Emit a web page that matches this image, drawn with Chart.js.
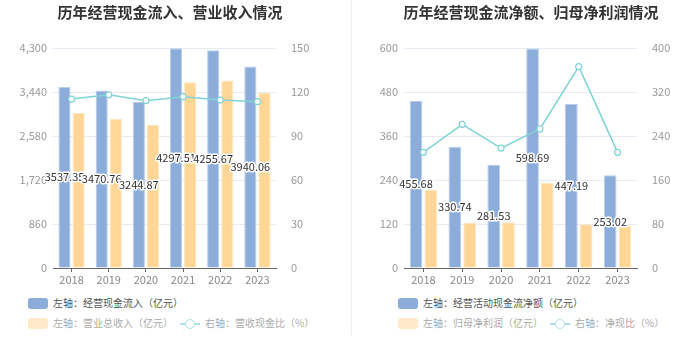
<!DOCTYPE html>
<html>
<head>
<meta charset="utf-8">
<script src="https://cdn.jsdelivr.net/npm/chart.js@4/dist/chart.umd.min.js"></script>
<style>
  body { margin: 0; background: #fff; font-family: "Noto Sans CJK SC", sans-serif; }
  #wrap { position: relative; width: 700px; height: 360px; }
  .box { position: absolute; top: 0; width: 350px; height: 290px; }
  .sep { position: absolute; left: 351px; top: 0; width: 1px; height: 335px; background: #eeeeee; }
  .lg { position: absolute; font-size: 10px; line-height: 14px; white-space: nowrap; }
  .sw { display: inline-block; width: 20px; height: 11px; border-radius: 3px; vertical-align: -2px; margin-right: 5px; }
  .ln { display: inline-block; position: relative; width: 20px; height: 11px; vertical-align: -2px; margin-right: 5px; }
  .ln::before { content: ""; position: absolute; left: 0; right: 0; top: 5px; height: 1.5px; background: #a9e3e5; }
  .ln::after { content: ""; position: absolute; left: 5px; top: 1px; width: 8px; height: 8px; border: 1.3px solid #a9e3e5; border-radius: 50%; background: #fff; }
</style>
</head>
<body>
<div id="wrap">
  <div class="box" style="left:0"><canvas id="c1"></canvas></div>
  <div class="sep"></div>
  <div class="box" style="left:350px"><canvas id="c2"></canvas></div>

  <div class="lg" style="left:28px;top:296px;color:#555"><span class="sw" style="background:#8cadda"></span>左轴：经营现金流入（亿元）</div>
  <div class="lg" style="left:28px;top:316px;color:#aaa"><span class="sw" style="background:#ffe9c9"></span>左轴：营业总收入（亿元）</div>
  <div class="lg" style="left:180px;top:316px;color:#aaa"><span class="ln"></span>右轴：营收现金比（%）</div>

  <div class="lg" style="left:398px;top:296px;color:#555"><span class="sw" style="background:#8cadda"></span>左轴：经营活动现金流净额（亿元）</div>
  <div class="lg" style="left:398px;top:316px;color:#aaa"><span class="sw" style="background:#ffe9c9"></span>左轴：归母净利润（亿元）</div>
  <div class="lg" style="left:550px;top:316px;color:#aaa"><span class="ln"></span>右轴：净现比（%）</div>
</div>
<script>
// 数据
const years = ['2018', '2019', '2020', '2021', '2022', '2023'];

const cashInflow = [3537.35, 3470.76, 3244.87, 4297.51, 4255.67, 3940.06];
const revenue = [3030, 2912, 2795, 3630, 3665, 3425];
const cashRevenueRatio = [115.2, 118.1, 114.1, 116.8, 114.5, 113.4];

const netCashFlow = [455.68, 330.74, 281.53, 598.69, 447.19, 253.02];
const netProfit = [212.7, 123.6, 124.5, 232.7, 119.0, 116.4];
const netCashRatio = [210.3, 261.3, 218.0, 252.7, 366.0, 210.3];

const leftTicks = { min: 0, max: 4300, step: 860 };
const leftRightTicks = { min: 0, max: 150, step: 30 };
const rightTicks = { min: 0, max: 600, step: 120 };
const rightRightTicks = { min: 0, max: 400, step: 80 };

const FONT = '"Noto Sans CJK SC", sans-serif';

// 蓝色柱中间的数值标签
const barLabels = {
    id: 'barLabels',
    afterDatasetsDraw(chart) {
        const ctx = chart.ctx;
        const meta = chart.getDatasetMeta(0);
        const data = chart.data.datasets[0].data;
        ctx.save();
        ctx.font = '11px ' + FONT;
        ctx.textAlign = 'center';
        ctx.textBaseline = 'middle';
        ctx.lineJoin = 'round';
        meta.data.forEach((bar, i) => {
            const y = (bar.y + bar.base) / 2;
            const txt = data[i].toFixed(2);
            ctx.strokeStyle = '#fff';
            ctx.lineWidth = 3;
            ctx.strokeText(txt, bar.x, y);
            ctx.fillStyle = '#333';
            ctx.fillText(txt, bar.x, y);
        });
        ctx.restore();
    }
};

function makeChart(id, title, bars1, bars2, line, lt, rt, pad, leftW, rightW) {
    const ctx = document.getElementById(id).getContext('2d');
    return new Chart(ctx, {
        type: 'bar',
        data: {
            labels: years,
            datasets: [
                {
                    data: bars1,
                    backgroundColor: '#8cadda',
                    borderColor: '#b9cdea',
                    borderWidth: 1,
                    yAxisID: 'y',
                    order: 1,
                    categoryPercentage: 0.76,
                    barPercentage: 0.86
                },
                {
                    data: bars2,
                    backgroundColor: '#ffd696',
                    borderColor: '#ffe6bf',
                    borderWidth: 1,
                    yAxisID: 'y',
                    order: 1,
                    categoryPercentage: 0.76,
                    barPercentage: 0.86
                },
                {
                    type: 'line',
                    data: line,
                    borderColor: '#7fd3d6',
                    borderWidth: 1.5,
                    pointRadius: 3,
                    pointBackgroundColor: '#fff',
                    pointBorderColor: '#7fd3d6',
                    pointBorderWidth: 1.2,
                    tension: 0,
                    yAxisID: 'y1',
                    order: 0
                }
            ]
        },
        options: {
            responsive: false,
            animation: false,
            layout: { padding: pad },
            plugins: {
                legend: { display: false },
                tooltip: { enabled: false },
                title: {
                    display: true,
                    text: title,
                    color: '#333',
                    font: { size: 15, weight: 'bold', family: FONT },
                    padding: { top: 0, bottom: 27 }
                }
            },
            scales: {
                x: {
                    grid: { display: true, drawOnChartArea: false, offset: false, color: '#666', tickLength: 4 },
                    border: { color: '#666' },
                    ticks: { color: '#888', font: { size: 11, family: FONT }, padding: 1 },
                    afterFit: s => { s.height = 22; }
                },
                y: {
                    position: 'left',
                    min: lt.min, max: lt.max,
                    grid: { color: '#e6eaf3', drawTicks: false },
                    border: { display: false },
                    ticks: {
                        stepSize: lt.step,
                        color: '#999',
                        padding: 6,
                        font: { size: 11, family: FONT },
                        callback: v => v.toLocaleString('en-US')
                    },
                    afterFit: s => { s.width = leftW; }
                },
                y1: {
                    position: 'right',
                    min: rt.min, max: rt.max,
                    grid: { display: false },
                    border: { display: false },
                    ticks: {
                        stepSize: rt.step,
                        color: '#999',
                        padding: 7,
                        font: { size: 11, family: FONT }
                    },
                    afterFit: s => { s.width = rightW; }
                }
            }
        },
        plugins: [barLabels]
    });
}

document.getElementById('c1').width = 350;
document.getElementById('c1').height = 290;
document.getElementById('c2').width = 350;
document.getElementById('c2').height = 290;

makeChart('c1', '历年经营现金流入、营业收入情况', cashInflow, revenue, cashRevenueRatio,
    leftTicks, leftRightTicks, { left: 0, right: 10, top: 3, bottom: 0 }, 53, 64);
makeChart('c2', '历年经营现金流净额、归母净利润情况', netCashFlow, netProfit, netCashRatio,
    rightTicks, rightRightTicks, { left: 12, right: 0, top: 3, bottom: 0 }, 42, 63);
</script>
</body>
</html>
